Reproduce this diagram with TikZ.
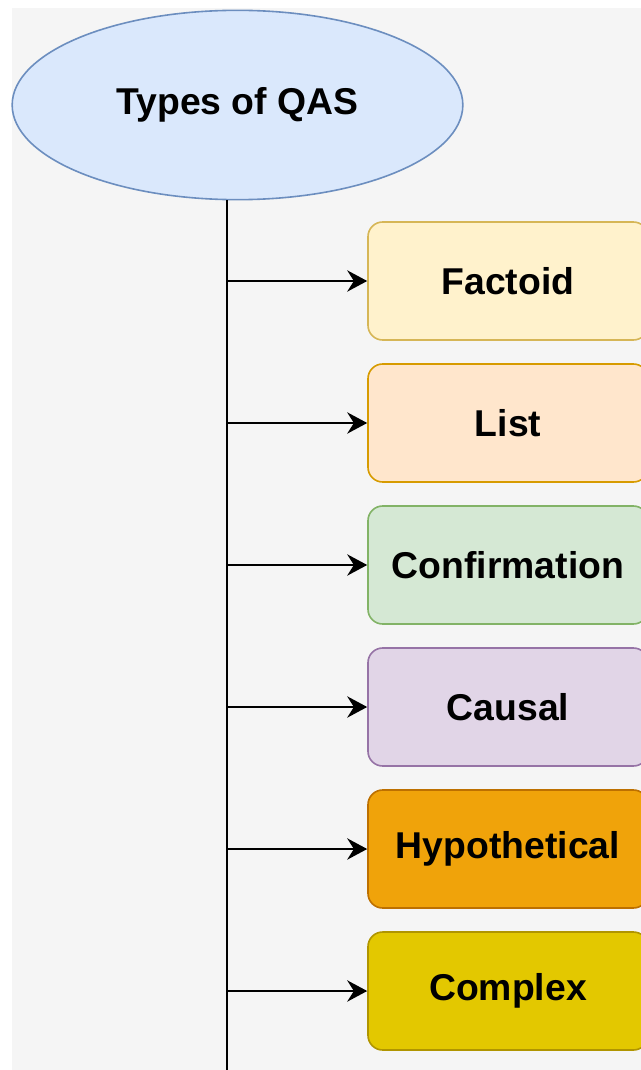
\documentclass[tikz,border=0pt]{standalone}
\usepackage{fontspec}
\setmainfont{Liberation Sans}
\usetikzlibrary{arrows.meta,shapes.geometric}
\definecolor{bgc}{HTML}{F5F5F5}
\definecolor{rootf}{HTML}{DAE8FC}
\definecolor{rootd}{HTML}{6C8EBF}
\definecolor{factoidf}{HTML}{FFF2CC}
\definecolor{factoidd}{HTML}{D6B656}
\definecolor{listf}{HTML}{FFE6CC}
\definecolor{listd}{HTML}{D79B00}
\definecolor{confirmf}{HTML}{D5E8D4}
\definecolor{confirmd}{HTML}{82B366}
\definecolor{causalf}{HTML}{E1D5E7}
\definecolor{causald}{HTML}{9673A6}
\definecolor{hypof}{HTML}{F0A30A}
\definecolor{hypod}{HTML}{BD7000}
\definecolor{complexf}{HTML}{E3C800}
\definecolor{complexd}{HTML}{B09500}
\begin{document}
\begin{tikzpicture}
[x=0.75pt,y=-0.75pt,
every node/.append style={font=\fontsize{28}{32}\selectfont\bfseries},
typebox/.style={draw,rounded corners=11pt,line width=1.2pt,minimum width=210pt,minimum height=88.5pt,inner sep=0pt},
link/.style={line width=1.5pt,-{Stealth[length=15pt,width=16pt,inset=5pt]}},
]
\def \gap {142}
\def \trunk {227}
\useasboundingbox (0,0) rectangle (641,1070);
\fill[bgc] (12,8) rectangle (641,1070);
\node[draw=rootd, fill=rootf, ellipse, line width=1.2pt, minimum width=338pt, minimum height=142pt, inner sep=0pt] (root) at (237.5,105) {Types of QAS};
\coordinate (end) at (\trunk,1070);
\draw[line width=1.5pt] (root.south -| end) -- (end);
\foreach \i/\name/\col in {1/Factoid/factoid, 2/List/list, 3/Confirmation/confirm, 4/Causal/causal, 5/Hypothetical/hypo, 6/Complex/complex}
{
\node[typebox, draw=\col d, fill=\col f] (\col) at (508, {281+\gap*(\i-1)}) {\name};
\coordinate (b\i) at (\trunk, {281+\gap*(\i-1)});
\draw[link] (b\i) -- (\col);
}
\end{tikzpicture}
\end{document}
